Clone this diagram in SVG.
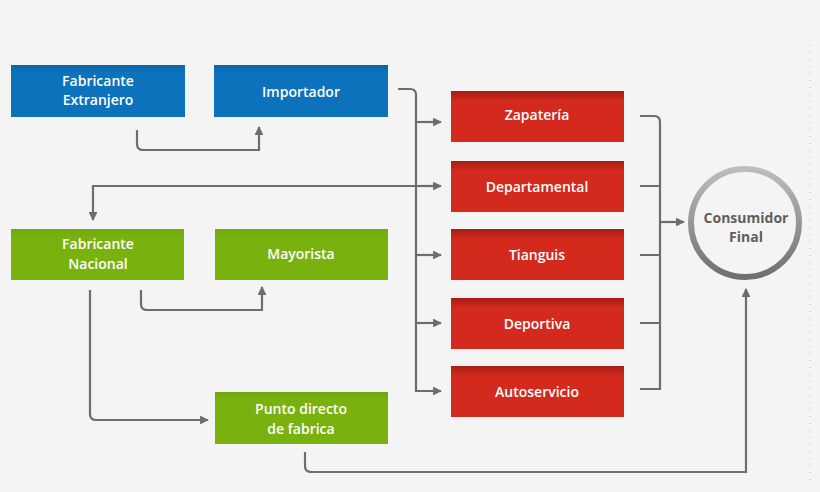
<svg xmlns="http://www.w3.org/2000/svg" width="820" height="492" viewBox="0 0 820 492">
<defs>
<linearGradient id="gb" x1="0" y1="0" x2="0" y2="1"><stop offset="0" stop-color="#0a64a8"/><stop offset="0.15" stop-color="#0b72bb"/><stop offset="1" stop-color="#0b72bb"/></linearGradient>
<linearGradient id="gg" x1="0" y1="0" x2="0" y2="1"><stop offset="0" stop-color="#6ea80c"/><stop offset="0.15" stop-color="#79b20e"/><stop offset="1" stop-color="#79b20e"/></linearGradient>
<linearGradient id="gr" x1="0" y1="0" x2="0" y2="1"><stop offset="0" stop-color="#a81c12"/><stop offset="0.2" stop-color="#d42a1e"/><stop offset="1" stop-color="#d42a1e"/></linearGradient>
<linearGradient id="gc" x1="0" y1="0" x2="0" y2="1"><stop offset="0" stop-color="#bdbdbd"/><stop offset="1" stop-color="#6f6f6f"/></linearGradient>
<marker id="ar" viewBox="0 0 10 10" refX="9" refY="5" markerWidth="4" markerHeight="4" orient="auto"><path d="M0,0 L10,5 L0,10 z" fill="#6d6d6d"/></marker>
</defs>
<style>
.t{font-family:"Open Sans","Liberation Sans",sans-serif;font-weight:600;font-size:14px;fill:#fff;text-anchor:middle}
.c{fill:none;stroke:#6d6d6d;stroke-width:2.2}
.b{fill:url(#gb)}.g{fill:url(#gg)}.r{fill:url(#gr)}
</style>
<rect width="820" height="492" fill="#f4f4f4"/>
<line x1="810" y1="45" x2="810" y2="480" stroke="#bbb" stroke-width="1" stroke-dasharray="1 6"/>
<g id="connectors">
<path class="c" d="M137,130 V144 Q137,150 143,150 H259 V127" marker-end="url(#ar)"/>
<path class="c" d="M141,290 V304 Q141,310 147,310 H262 V287" marker-end="url(#ar)"/>
<path class="c" d="M90,290 V414 Q90,420 96,420 H208" marker-end="url(#ar)"/>
<path class="c" d="M305,452 V466 Q305,472 311,472 H746 V289" marker-end="url(#ar)"/>
<path class="c" d="M440,186 H93 V220" marker-end="url(#ar)"/>
<path class="c" d="M398,89 H410 Q416,89 416,95 V391 H441" marker-end="url(#ar)"/>
<path class="c" d="M416,122 H441" marker-end="url(#ar)"/>
<path class="c" d="M416,186 H441" marker-end="url(#ar)"/>
<path class="c" d="M416,255 H441" marker-end="url(#ar)"/>
<path class="c" d="M416,323 H441" marker-end="url(#ar)"/>
<path class="c" d="M640,116 H654 Q660,116 660,122 V389 H640"/>
<path class="c" d="M640,186 H660 M640,255 H660 M640,323 H660"/>
<path class="c" d="M660,222 H684" marker-end="url(#ar)"/>
</g>
<g id="fab-ext"><rect class="b" x="11" y="65" width="174" height="52"/><text class="t" x="98" y="86">Fabricante</text><text class="t" x="98" y="105">Extranjero</text></g>
<g id="importador"><rect class="b" x="214" y="65" width="174" height="52"/><text class="t" x="301" y="97">Importador</text></g>
<g id="fab-nac"><rect class="g" x="11" y="229" width="173" height="51"/><text class="t" x="98" y="249">Fabricante</text><text class="t" x="98" y="269">Nacional</text></g>
<g id="mayorista"><rect class="g" x="215" y="229" width="173" height="51"/><text class="t" x="301" y="259">Mayorista</text></g>
<g id="punto"><rect class="g" x="215" y="392" width="173" height="52"/><text class="t" x="301" y="414">Punto directo</text><text class="t" x="301" y="434">de fabrica</text></g>
<g id="zapateria"><rect class="r" x="451" y="91" width="173" height="51"/><text class="t" x="537" y="120">Zapatería</text></g>
<g id="departamental"><rect class="r" x="451" y="161" width="173" height="51"/><text class="t" x="537" y="192">Departamental</text></g>
<g id="tianguis"><rect class="r" x="451" y="229" width="173" height="51"/><text class="t" x="537" y="260">Tianguis</text></g>
<g id="deportiva"><rect class="r" x="451" y="298" width="173" height="51"/><text class="t" x="537" y="329">Deportiva</text></g>
<g id="autoservicio"><rect class="r" x="451" y="366" width="173" height="51"/><text class="t" x="537" y="397">Autoservicio</text></g>
<g id="consumidor"><circle cx="745" cy="223" r="54" fill="#f4f4f4" stroke="url(#gc)" stroke-width="6"/><text class="t" x="746" y="223" style="fill:#5f5f5f;font-weight:700">Consumidor</text><text class="t" x="746" y="242" style="fill:#5f5f5f;font-weight:700">Final</text></g>
</svg>
